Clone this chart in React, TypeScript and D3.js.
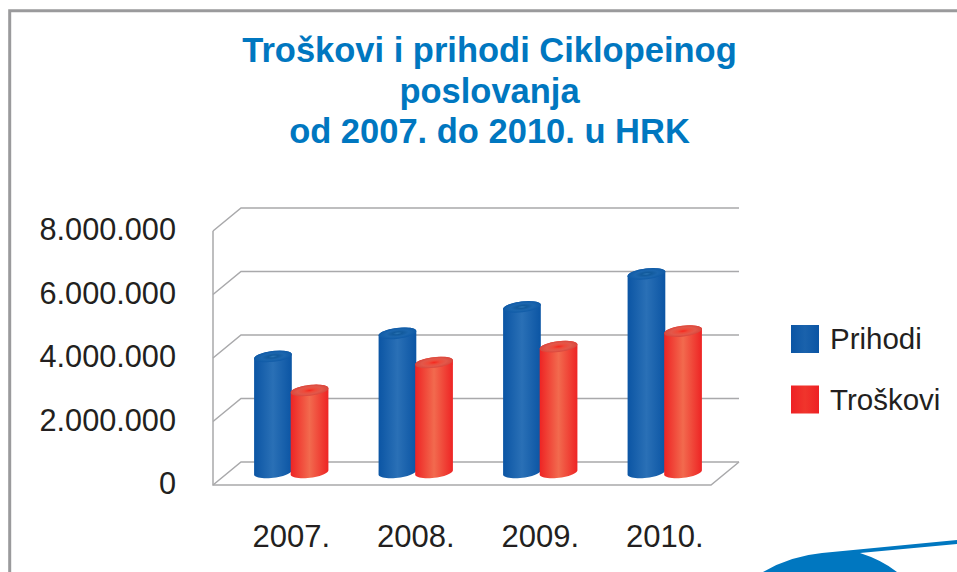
import React from "react";
import * as d3 from "d3";

const W = 957, H = 572;
const titleLines = ["Troškovi i prihodi Ciklopeinog", "poslovanja", "od 2007. do 2010. u HRK"];
const categories = ["2007.", "2008.", "2009.", "2010."];
const prihodi = [3670000, 4400000, 5230000, 6270000];
const troskovi = [2600000, 3480000, 3980000, 4470000];
const yTicks = [0, 2000000, 4000000, 6000000, 8000000];
const tickLabels = ["0", "2.000.000", "4.000.000", "6.000.000", "8.000.000"];
const seriesNames = ["Prihodi", "Troškovi"];

const FONT = "'Liberation Sans', Arial, sans-serif";
const DX = 28, DY = -23;

const yFront = d3.scaleLinear().domain([0, 8000000]).range([485, 231]);
const xBand = d3.scaleBand<string>().domain(categories).range([229, 727]).paddingInner(0).paddingOuter(0);
const RX = 19, RY = 5.4, ROT = -7;
const DEPTH_SHIFT = -12;
const lineGen = d3.line<[number, number]>();

// point on the tilted ellipse at angle a (radians; a=PI/2 is the lower side on screen)
function ellipsePoint(cx: number, cy: number, a: number): [number, number] {
  const r = (ROT * Math.PI) / 180;
  const ex = RX * Math.cos(a), ey = RY * Math.sin(a);
  return [cx + ex * Math.cos(r) - ey * Math.sin(r), cy + ex * Math.sin(r) + ey * Math.cos(r)];
}

function Cylinder({ cx, value, id }: { cx: number; value: number; id: string }) {
  const yTop = yFront(value) + DEPTH_SHIFT;
  const yBot = yFront(0) + DEPTH_SHIFT - 0.6;
  const pts: [number, number][] = [];
  // lower half of the base, left to right
  for (let k = 0; k <= 24; k++) pts.push(ellipsePoint(cx, yBot, Math.PI - (k / 24) * Math.PI));
  // upper half of the top, right to left
  for (let k = 0; k <= 24; k++) pts.push(ellipsePoint(cx, yTop, 2 * Math.PI - (k / 24) * Math.PI));
  return (
    <g>
      <path d={lineGen(pts)! + "Z"} fill={`url(#body-${id})`} />
      <ellipse cx={cx} cy={yTop} rx={RX} ry={RY} transform={`rotate(${ROT} ${cx} ${yTop})`} fill={`url(#top-${id})`} />
    </g>
  );
}

export default function App() {
  return (
    <svg width={W} height={H} viewBox={`0 0 ${W} ${H}`} style={{ position: "fixed", left: 0, top: 0, background: "#fff" }}>
      <defs>
        <linearGradient id="body-blue" x1="0" x2="1" y1="0" y2="0">
          <stop offset="0" stopColor="#0b55a4" />
          <stop offset="0.5" stopColor="#2a70b6" />
          <stop offset="1" stopColor="#0b55a4" />
        </linearGradient>
        <linearGradient id="body-red" x1="0" x2="1" y1="0" y2="0">
          <stop offset="0" stopColor="#ee2424" />
          <stop offset="0.5" stopColor="#f26a4e" />
          <stop offset="1" stopColor="#ee2424" />
        </linearGradient>
        <radialGradient id="top-blue" cx="0.5" cy="0.5" r="0.5">
          <stop offset="0" stopColor="#2a74b4" />
          <stop offset="0.25" stopColor="#125a9c" />
          <stop offset="0.6" stopColor="#1c66ae" />
          <stop offset="1" stopColor="#0f5aa6" />
        </radialGradient>
        <radialGradient id="top-red" cx="0.5" cy="0.5" r="0.5">
          <stop offset="0" stopColor="#f5281e" />
          <stop offset="0.3" stopColor="#ee4a3a" />
          <stop offset="0.65" stopColor="#e2584a" />
          <stop offset="1" stopColor="#d9463c" />
        </radialGradient>
        <linearGradient id="sw-blue" x1="0" x2="1" y1="0" y2="0">
          <stop offset="0" stopColor="#0b55a4" />
          <stop offset="0.5" stopColor="#1a62ac" />
          <stop offset="1" stopColor="#0b55a4" />
        </linearGradient>
        <linearGradient id="sw-red" x1="0" x2="1" y1="0" y2="0">
          <stop offset="0" stopColor="#ee2024" />
          <stop offset="0.5" stopColor="#f0352c" />
          <stop offset="1" stopColor="#ee2024" />
        </linearGradient>
      </defs>

      <path d={`M9.7,${H} L9.7,10.8 L${W},10.8`} fill="none" stroke="#9a9a9c" strokeWidth={3} />

      {titleLines.map((t, i) => (
        <text key={t} x={489.5} y={62 + i * 40.5} textAnchor="middle" fontFamily={FONT} fontWeight="bold" fontSize={34.5} fill="#0077c0">{t}</text>
      ))}

      <g fill="none" stroke="#a9a9ab" strokeWidth={1.5}>
        {yTicks.map((v) => {
          const y = yFront(v);
          return <path key={v} d={`M213,${y} L${213 + DX},${y + DY} L739,${y + DY}`} />;
        })}
        <path d={`M213,${yFront(8000000)} L213,${yFront(0)} L711,${yFront(0)} L739,${yFront(0) + DY}`} />
      </g>

      {yTicks.map((v, i) => (
        <text key={v} x={176} y={yFront(v) + 9} textAnchor="end" fontFamily={FONT} fontSize={30.7} fill="#231f20">{tickLabels[i]}</text>
      ))}

      {categories.map((c, i) => {
        const cx = xBand(c)! + xBand.bandwidth() / 2;
        return (
          <g key={c}>
            <Cylinder cx={cx - 18.3} value={prihodi[i]} id="blue" />
            <Cylinder cx={cx + 18.3} value={troskovi[i]} id="red" />
            <text x={cx} y={546.5} textAnchor="middle" fontFamily={FONT} fontSize={31} fill="#231f20">{c}</text>
          </g>
        );
      })}

      {seriesNames.map((s, i) => (
        <g key={s}>
          <rect x={791} y={325 + i * 60.5} width={28} height={28} fill={i === 0 ? "url(#sw-blue)" : "url(#sw-red)"} />
          <text x={830} y={349 + i * 60.5} fontFamily={FONT} fontSize={29.5} fill="#231f20">{s}</text>
        </g>
      ))}

      <path d={`M763,572 Q790,556 822,553 L957,540 L957,544 L860,553 Q882,560 897,572 Z`} fill="#0077c0" />
    </svg>
  );
}
